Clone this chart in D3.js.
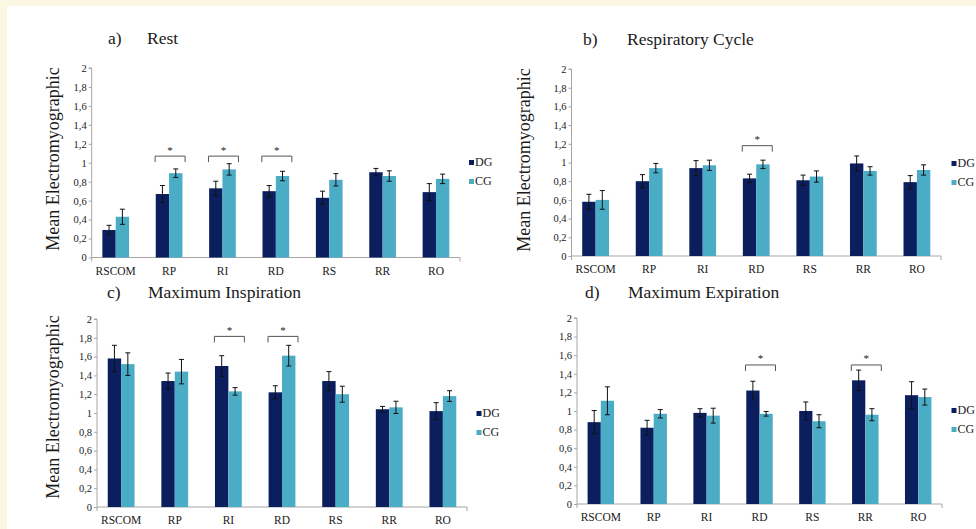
<!DOCTYPE html>
<html>
<head>
<meta charset="utf-8">
<script src="https://cdn.jsdelivr.net/npm/d3@7"></script>
<style>
  html, body { margin: 0; padding: 0; background: #fcf7e3; }
  svg { display: block; }
  text { font-family: "Liberation Serif", "Times New Roman", serif; fill: #1a1a1a; }
</style>
</head>
<body>
<svg id="chart" width="976" height="529"></svg>
<script>
// Muscles (categories) and groups
const categories = ["RSCOM", "RP", "RI", "RD", "RS", "RR", "RO"];
const groups = ["DG", "CG"];
const yTicks = [0, 0.2, 0.4, 0.6, 0.8, 1, 1.2, 1.4, 1.6, 1.8, 2];

// a) Rest
const restDG = [0.29, 0.67, 0.73, 0.70, 0.63, 0.90, 0.69];
const restDGErr = [0.05, 0.09, 0.075, 0.06, 0.07, 0.04, 0.09];
const restCG = [0.43, 0.89, 0.93, 0.86, 0.82, 0.86, 0.83];
const restCGErr = [0.08, 0.045, 0.06, 0.05, 0.065, 0.055, 0.05];
const restSig = ["RP", "RI", "RD"];
const restSigLevel = 1.07;

// b) Respiratory cycle
const cycleDG = [0.58, 0.80, 0.94, 0.83, 0.81, 0.99, 0.79];
const cycleDGErr = [0.08, 0.07, 0.08, 0.045, 0.055, 0.08, 0.07];
const cycleCG = [0.60, 0.94, 0.97, 0.98, 0.85, 0.91, 0.92];
const cycleCGErr = [0.10, 0.05, 0.055, 0.045, 0.06, 0.045, 0.055];
const cycleSig = ["RD"];
const cycleSigLevel = 1.18;

// c) Maximum inspiration
const inspDG = [1.58, 1.34, 1.50, 1.22, 1.34, 1.04, 1.02];
const inspDGErr = [0.14, 0.085, 0.11, 0.07, 0.10, 0.03, 0.09];
const inspCG = [1.52, 1.44, 1.23, 1.61, 1.20, 1.06, 1.18];
const inspCGErr = [0.12, 0.13, 0.04, 0.11, 0.085, 0.065, 0.057];
const inspSig = ["RI", "RD"];
const inspSigLevel = 1.815;

// d) Maximum expiration
const expDG = [0.88, 0.82, 0.98, 1.22, 1.00, 1.33, 1.17];
const expDGErr = [0.125, 0.08, 0.045, 0.10, 0.097, 0.11, 0.145];
const expCG = [1.11, 0.97, 0.95, 0.97, 0.89, 0.96, 1.15];
const expCGErr = [0.15, 0.045, 0.08, 0.025, 0.07, 0.065, 0.086];
const expSig = ["RD", "RR"];
const expSigLevel = 1.495;

const colors = { DG: "#0b1f5e", CG: "#4bacc6" };
const axisColor = "#a6a6a6";

const panels = [
  { letter: "a)", title: "Rest", dg: restDG, dgErr: restDGErr, cg: restCG, cgErr: restCGErr,
    sig: restSig, sigLevel: restSigLevel,
    x0: 91.7, x1: 460, yTop: 68, yBot: 257.5,
    letterX: 108, titleX: 147, titleY: 44,
    ylabel: { x: 59, y: 159 }, legend: { x: 469, y: 166 } },
  { letter: "b)", title: "Respiratory Cycle", dg: cycleDG, dgErr: cycleDGErr, cg: cycleCG, cgErr: cycleCGErr,
    sig: cycleSig, sigLevel: cycleSigLevel,
    x0: 571.5, x1: 941, yTop: 69, yBot: 256,
    letterX: 583, titleX: 627, titleY: 45,
    ylabel: { x: 530, y: 160 }, legend: { x: 951.5, y: 167 } },
  { letter: "c)", title: "Maximum Inspiration", dg: inspDG, dgErr: inspDGErr, cg: inspCG, cgErr: inspCGErr,
    sig: inspSig, sigLevel: inspSigLevel,
    x0: 97, x1: 467, yTop: 319, yBot: 507,
    letterX: 107, titleX: 148, titleY: 298,
    ylabel: { x: 59, y: 407 }, legend: { x: 476.5, y: 417 } },
  { letter: "d)", title: "Maximum Expiration", dg: expDG, dgErr: expDGErr, cg: expCG, cgErr: expCGErr,
    sig: expSig, sigLevel: expSigLevel,
    x0: 577, x1: 942, yTop: 318, yBot: 504,
    letterX: 585, titleX: 628, titleY: 298,
    ylabel: null, legend: { x: 951.5, y: 414 } }
];

const svg = d3.select("#chart");

// white page area with the cream margin on the top and left
svg.append("rect").attr("x", 7).attr("y", 6).attr("width", 976 - 7).attr("height", 529 - 6).attr("fill", "#ffffff");

const fmt = v => d3.format("")(+v.toFixed(1)).replace(".", ",");

panels.forEach(p => {
  const g = svg.append("g");

  const x = d3.scaleBand().domain(categories).range([p.x0, p.x1]).paddingInner(0.5).paddingOuter(0.2);
  const xs = d3.scaleBand().domain(groups).range([0, x.bandwidth()]);
  const y = d3.scaleLinear().domain([0, 2]).range([p.yBot, p.yTop]);

  // y axis
  const yAxis = g.append("g").attr("transform", `translate(${p.x0},0)`)
    .call(d3.axisLeft(y).tickValues(yTicks).tickSize(3).tickPadding(2).tickFormat(fmt));
  yAxis.selectAll("path, line").attr("stroke", axisColor);
  yAxis.select(".domain").attr("d", `M-3,${y(2)}H0V${p.yBot + 4}`);
  yAxis.selectAll("text").attr("font-size", 10.5).attr("font-family", "Liberation Serif").attr("fill", "#222");

  // x axis
  const xAxis = g.append("g").attr("transform", `translate(0,${p.yBot})`)
    .call(d3.axisBottom(x).tickSize(0).tickPadding(9));
  xAxis.select(".domain").attr("stroke", axisColor).attr("d", `M${p.x0},0H${p.x1}V4`);
  xAxis.selectAll("text").attr("font-size", 11.5).attr("font-family", "Liberation Serif").attr("fill", "#222");

  // bars
  const rows = categories.map((c, i) => ({
    cat: c,
    vals: [
      { grp: "DG", v: p.dg[i], e: p.dgErr[i] },
      { grp: "CG", v: p.cg[i], e: p.cgErr[i] }
    ]
  }));

  const grpSel = g.selectAll(".cat").data(rows).enter().append("g")
    .attr("transform", d => `translate(${x(d.cat)},0)`);

  grpSel.selectAll("rect").data(d => d.vals).enter().append("rect")
    .attr("x", d => xs(d.grp))
    .attr("y", d => y(d.v))
    .attr("width", xs.bandwidth())
    .attr("height", d => y(0) - y(d.v))
    .attr("fill", d => colors[d.grp]);

  // error bars
  const eb = grpSel.selectAll(".err").data(d => d.vals).enter().append("g")
    .attr("stroke", "#111").attr("stroke-width", 1);
  eb.append("line")
    .attr("x1", d => xs(d.grp) + xs.bandwidth() / 2).attr("x2", d => xs(d.grp) + xs.bandwidth() / 2)
    .attr("y1", d => y(d.v - d.e)).attr("y2", d => y(d.v + d.e));
  eb.append("line")
    .attr("x1", d => xs(d.grp) + xs.bandwidth() / 2 - 2.5).attr("x2", d => xs(d.grp) + xs.bandwidth() / 2 + 2.5)
    .attr("y1", d => y(d.v + d.e)).attr("y2", d => y(d.v + d.e));
  eb.append("line")
    .attr("x1", d => xs(d.grp) + xs.bandwidth() / 2 - 2.5).attr("x2", d => xs(d.grp) + xs.bandwidth() / 2 + 2.5)
    .attr("y1", d => y(d.v - d.e)).attr("y2", d => y(d.v - d.e));

  // significance brackets
  p.sig.forEach(c => {
    const cx = x(c) + x.bandwidth() / 2 + 1;
    const top = y(p.sigLevel);
    g.append("path")
      .attr("d", `M${cx - 15},${top + 6}V${top}H${cx + 15}V${top + 6}`)
      .attr("fill", "none").attr("stroke", "#555").attr("stroke-width", 1);
    g.append("text").attr("x", cx).attr("y", top - 2.5).attr("text-anchor", "middle")
      .attr("font-size", 11).text("*");
  });

  // title
  g.append("text").attr("x", p.letterX).attr("y", p.titleY).attr("font-size", 17.5).text(p.letter);
  g.append("text").attr("x", p.titleX).attr("y", p.titleY).attr("font-size", 17.5).text(p.title);

  // y axis label
  if (p.ylabel) {
    g.append("text")
      .attr("transform", `translate(${p.ylabel.x},${p.ylabel.y}) rotate(-90)`)
      .attr("text-anchor", "middle").attr("font-size", 18)
      .text("Mean Electromyographic");
  }

  // legend
  groups.forEach((grp, i) => {
    const ly = p.legend.y + i * 19;
    g.append("rect").attr("x", p.legend.x).attr("y", ly - 6).attr("width", 5).attr("height", 5)
      .attr("fill", colors[grp]);
    g.append("text").attr("x", p.legend.x + 6).attr("y", ly).attr("font-size", 12).text(grp);
  });
});
</script>
</body>
</html>
